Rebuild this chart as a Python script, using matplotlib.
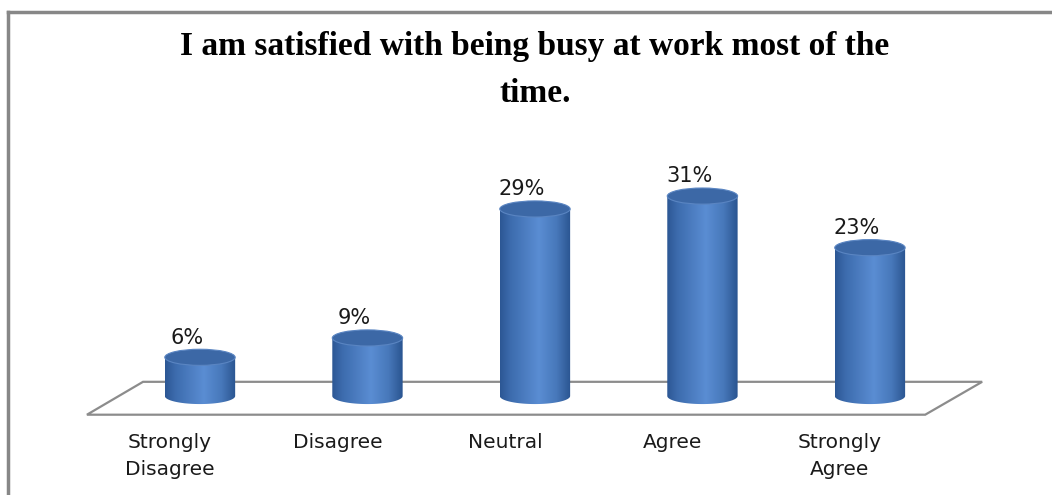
import numpy as np
import matplotlib
matplotlib.use('Agg')
import matplotlib.pyplot as plt
from matplotlib.patches import Ellipse, Polygon
from matplotlib.colors import LinearSegmentedColormap


categories = ['Strongly\nDisagree', 'Disagree', 'Neutral', 'Agree', 'Strongly\nAgree']
values = [6, 9, 29, 31, 23]
labels = ['6%', '9%', '29%', '31%', '23%']
title = 'I am satisfied with being busy at work most of the\ntime.'

fig = plt.figure(figsize=(10.52, 4.95), dpi=100)
ax = fig.add_axes([0, 0, 1, 1])
ax.set_xlim(-1.194, 5.087)
ax.set_ylim(-15.35, 61.4)
ax.axis('off')

# frame lines (top + left only, the picture is cropped)
fig.add_artist(plt.Line2D([7.5 / 1052, 1], [1 - 12 / 495, 1 - 12 / 495], color='#878787', lw=2.5))
fig.add_artist(plt.Line2D([7.5 / 1052, 7.5 / 1052], [0, 1 - 12 / 495], color='#878787', lw=2.5))

# floor
floor = Polygon([(-0.675, -2.9), (-0.34, 2.2), (4.67, 2.2), (4.33, -2.9)],
                closed=True, facecolor='white', edgecolor='#8c8c8c', lw=1.6, zorder=1)
ax.add_patch(floor)

bar_w = 0.42
ell_h = 2.5
cmap = LinearSegmentedColormap.from_list('cyl', [
    (0.0, '#2c5794'), (0.15, '#3d6cae'), (0.55, '#5a8dd3'), (0.8, '#4778ba'), (1.0, '#2a5490')])
grad = np.linspace(0, 1, 256).reshape(1, -1)

for i, v in enumerate(values):
    x0, x1 = i - bar_w / 2, i + bar_w / 2
    # body: rectangle + lower half ellipse
    t = np.linspace(np.pi, 2 * np.pi, 60)
    bottom = np.column_stack([i + bar_w / 2 * np.cos(t), ell_h / 2 * np.sin(t)])
    verts = np.vstack([[[x0, v]], bottom, [[x1, v]], [[x0, v]]])
    body = Polygon(verts, closed=True, facecolor='none', edgecolor='none', zorder=3)
    ax.add_patch(body)
    im = ax.imshow(grad, cmap=cmap, extent=(x0, x1, -ell_h, v), aspect='auto',
                   interpolation='bilinear', zorder=3)
    im.set_clip_path(body)
    top = Ellipse((i, v), bar_w, ell_h, facecolor='#3c68a6', edgecolor='#5a85c2',
                  lw=0.8, zorder=4)
    ax.add_patch(top)
    ax.text(i - 0.08, v + 1.5, labels[i], ha='center', va='bottom', fontsize=15,
            family='DejaVu Sans', color='#1a1a1a', zorder=5)
    ax.text(i - 0.18, -5.8, categories[i], ha='center', va='top', fontsize=14.5,
            family='DejaVu Sans', color='#1a1a1a', linespacing=1.5)

fig.text(535 / 1052, 1 - 70 / 495, title, ha='center', va='center', fontsize=24,
         family='Liberation Serif', fontweight='bold', linespacing=1.65)

fig.savefig('out.png', dpi=100)
